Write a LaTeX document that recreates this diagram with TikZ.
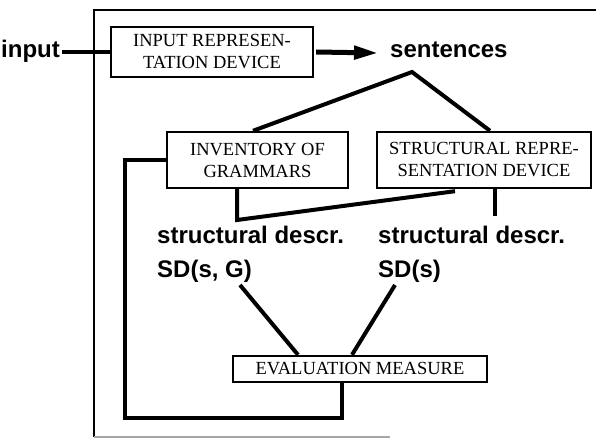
\documentclass[tikz,border=0pt]{standalone}
\usepackage{fontspec}
\setmainfont{Liberation Serif}
\newfontfamily\labelfont{Liberation Sans}
\usetikzlibrary{arrows.meta}
\begin{document}
\begin{tikzpicture}[x=1pt,y=-1pt,
  devbox/.style={draw,line width=2.4pt,align=center,inner sep=0pt,
    font=\fontsize{18.5}{22}\selectfont},
  link/.style={line width=4pt,line join=miter},
  frame/.style={line width=1.6pt},
  lbl/.style={font=\labelfont\bfseries\fontsize{24}{34}\selectfont,inner sep=0pt,align=left}]
\useasboundingbox (0,0) rectangle (596,438);

% outer frame
\draw[frame] (596,10) -- (94,10) -- (94,437);
\draw[frame,black!35] (94,437) -- (390,437);

% devices
\node[devbox,minimum width=202pt,minimum height=50pt] (ird) at (212,52) {INPUT REPRESEN-\\TATION DEVICE};
\node[devbox,minimum width=181pt,minimum height=56pt] (inv) at (257.5,160) {INVENTORY OF\\GRAMMARS};
\node[devbox,minimum width=214pt,minimum height=56pt] (srd) at (484,160) {STRUCTURAL REPRE-\\SENTATION DEVICE};
\node[devbox,minimum width=254pt,minimum height=26pt] (eval) at (360,369) {EVALUATION MEASURE};

% labels
\node[lbl,anchor=west] (input) at (1,51) {input};
\node[lbl,anchor=west] (sent) at (390,50) {sentences};
\node[lbl,anchor=north west] (sdg) at (157,226) {structural descr.\\SD(s, G)};
\node[lbl,anchor=north west] (sds) at (378,226) {structural descr.\\SD(s)};

% connector points
\coordinate (inend) at (62,52);
\coordinate (arrend) at (378,53);
\coordinate (peak) at (412,72);
\coordinate (dip) at (237,220);
\coordinate (tickend) at (495,216);
\coordinate (sdgfoot) at (240,285);
\coordinate (sdsfoot) at (395,285);
\coordinate (loopcorner) at (125,418);

% connectors
\draw[link] (inend) -- (ird.west);
\draw[line width=5pt,-{Triangle[length=24pt,width=13pt]}] ([xshift=2pt]ird.east) -- (arrend);
\draw[link] ([xshift=-4.5pt]inv.north) -- (peak) -- ([xshift=6pt]srd.north);
\draw[link] ([xshift=-20.5pt]inv.south) -- (dip) -- ([xshift=-29pt,yshift=-2pt]srd.south);
\draw[link] ([xshift=11pt]srd.south) -- (tickend);
\draw[link] (sdgfoot) -- ([xshift=-62pt]eval.north);
\draw[link] (sdsfoot) -- ([xshift=-8pt]eval.north);
\draw[link] (inv.west) -| (loopcorner) -| ([xshift=-18pt]eval.south);
\end{tikzpicture}
\end{document}
